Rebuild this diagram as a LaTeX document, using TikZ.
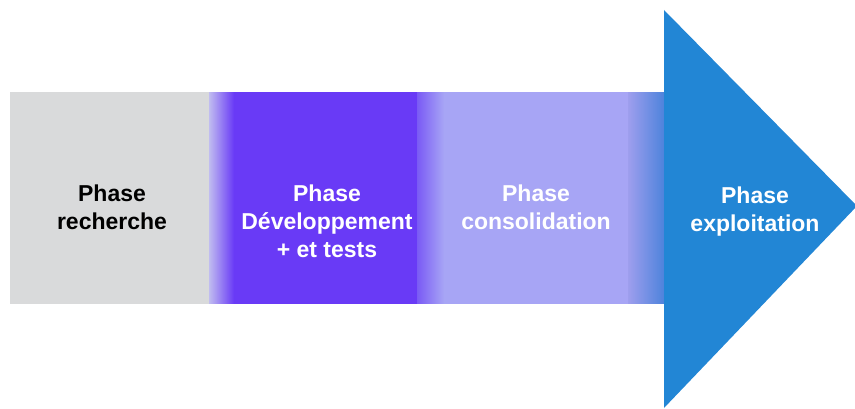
\documentclass[tikz,border=0pt]{standalone}
\usepackage{fontspec}
\setmainfont{Liberation Sans}
\usepackage{xcolor}
\usepackage{tikz}

\definecolor{phasegrey}{RGB}{217,218,219}
\definecolor{phasepurple}{RGB}{105,58,246}
\definecolor{phaselavender}{RGB}{167,165,245}
\definecolor{phaseblue}{RGB}{34,134,213}
% colours at the start of each fade
\definecolor{fadeone}{RGB}{192,188,240}
\definecolor{fadetwo}{RGB}{122,90,245}
\definecolor{fadethree}{RGB}{158,158,238}
\definecolor{fadeend}{RGB}{80,132,220}

\begin{document}
\begin{tikzpicture}[
  x=1pt, y=1pt,
  label text/.style={
    anchor=north, align=center, inner sep=0pt,
    font=\fontsize{23}{28}\selectfont\bfseries
  }
]
\useasboundingbox (0,0) rectangle (855,408);

% the band, one block per phase
\fill[phasegrey] (10,104) rectangle (209,316);
\fill[phasepurple] (235,104) rectangle (417,316);
\fill[phaselavender] (445,104) rectangle (628,316);

% fades between the blocks, thin strips
\foreach \i in {0,...,25} {
  \pgfmathsetmacro\p{100*\i/25}
  \fill[phasepurple!\p!fadeone] (209+\i,104) rectangle (210.5+\i,316);
}
\foreach \i in {0,...,27} {
  \pgfmathsetmacro\p{100*\i/27}
  \fill[phaselavender!\p!fadetwo] (417+\i,104) rectangle (418.5+\i,316);
}
\foreach \i in {0,...,35} {
  \pgfmathsetmacro\p{100*\i/35}
  \fill[fadeend!\p!fadethree] (628+\i,104) rectangle (629.5+\i,316);
}

% arrow head
\fill[phaseblue] (664,398) -- (857,202) -- (664,0) -- cycle;

% labels
\node[label text, text=black] (recherche) at (112,223) {Phase\\recherche};
\node[label text, text=white] (developpement) at (327,223) {Phase\\Développement\\+ et tests};
\node[label text, text=white] (consolidation) at (536,223) {Phase\\consolidation};
\node[label text, text=white] (exploitation) at (755,221) {Phase\\exploitation};

\end{tikzpicture}
\end{document}
